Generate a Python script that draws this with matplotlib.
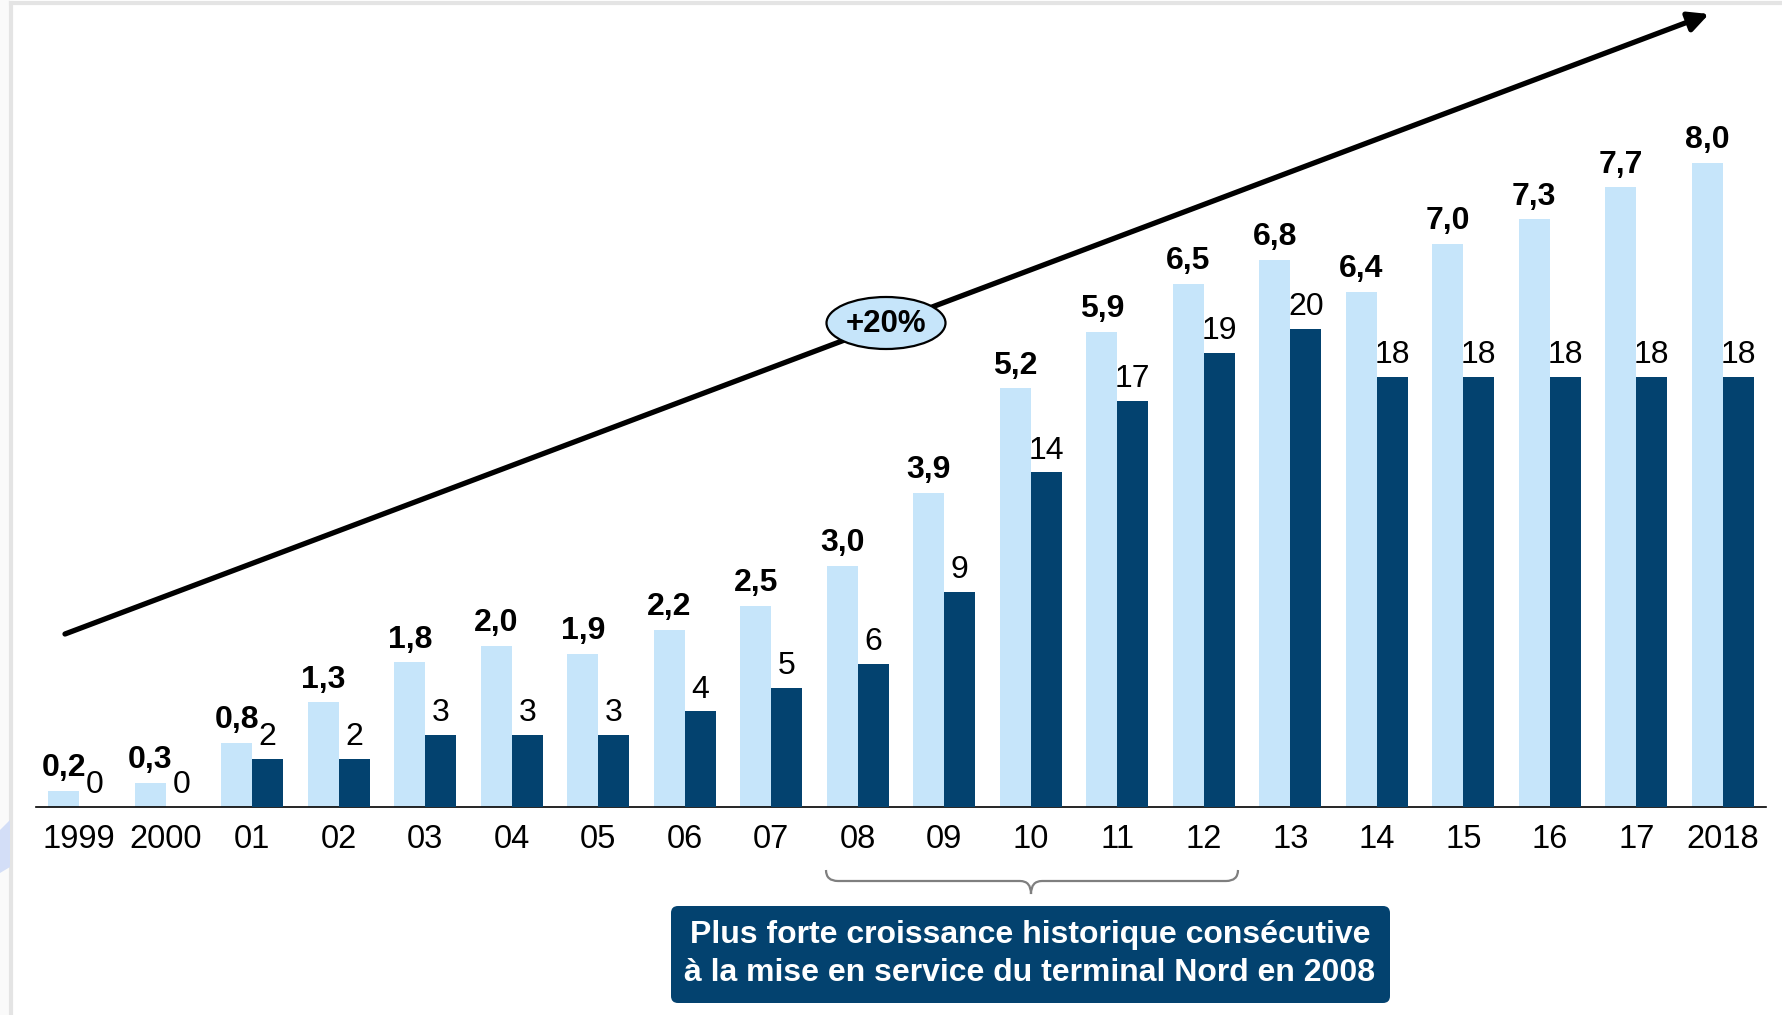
import matplotlib
matplotlib.use("Agg")
import matplotlib.pyplot as plt
import numpy as np
from matplotlib.patches import Ellipse, FancyBboxPatch, Polygon, PathPatch, Rectangle, FancyArrowPatch
from matplotlib.path import Path
from matplotlib.lines import Line2D
from matplotlib.transforms import Affine2D

plt.rcParams['font.family'] = ['Liberation Sans', 'DejaVu Sans']

# ---- data ----
years = ['1999', '2000', '01', '02', '03', '04', '05', '06', '07', '08',
         '09', '10', '11', '12', '13', '14', '15', '16', '17', '2018']
volume = [0.2, 0.3, 0.8, 1.3, 1.8, 2.0, 1.9, 2.2, 2.5, 3.0,
          3.9, 5.2, 5.9, 6.5, 6.8, 6.4, 7.0, 7.3, 7.7, 8.0]
growth = [0, 0, 2, 2, 3, 3, 3, 4, 5, 6,
          9, 14, 17, 19, 20, 18, 18, 18, 18, 18]
trend_label = '+20%'
note_lines = ['Plus forte croissance historique consécutive',
              'à la mise en service du terminal Nord en 2008']

LIGHT = '#C6E5FA'
DARK = '#03426F'

W, H = 1783, 1015
fig = plt.figure(figsize=(W / 100, H / 100), dpi=100)
fig.patch.set_facecolor('white')

# pixel coordinates (origin top-left, y downward) mapped onto the figure
pxT = Affine2D().scale(1 / W, -1 / H).translate(0, 1) + fig.transFigure

# page frame
fig.add_artist(Rectangle((0, 0), 10, H, transform=pxT, color='#FAFAFA', lw=0, zorder=0))
fig.add_artist(Line2D([11, 11], [3, H], transform=pxT, color='#E4E4E4', lw=3, zorder=1))
fig.add_artist(Line2D([11, W], [3, 3], transform=pxT, color='#E4E4E4', lw=3, zorder=1))
fig.add_artist(Polygon([(0, 830), (10, 820), (10, 867), (0, 873)], transform=pxT,
                       color='#D3DEF7', lw=0, zorder=1))

# ---- axes ----
left, right, base, top = 36, 1766, 807, 0
ax = fig.add_axes([left / W, 1 - base / H, (right - left) / W, (base - top) / H])
ax2 = ax.twinx()

x = np.arange(len(years))
bw = 0.358
ax.bar(x - bw / 2, volume, bw, color=LIGHT, zorder=2)
ax2.bar(x + bw / 2, growth, bw, color=DARK, zorder=2)

ax.set_xlim(-0.5, len(years) - 0.5)
ax.set_ylim(0, base / 80.5)
ax2.set_ylim(0, base / 23.9)

for xi, v in zip(x, volume):
    ax.annotate(f"{v:.1f}".replace('.', ','), (xi - bw / 2, v), xytext=(0, 10.5),
                textcoords='offset points', ha='center', va='baseline',
                fontsize=23, fontweight='bold', color='black', annotation_clip=False)
for xi, v in zip(x, growth):
    ax2.annotate(f"{v}", (xi + bw / 2, v), xytext=(0, 10),
                 textcoords='offset points', ha='center', va='baseline',
                 fontsize=23, color='black', annotation_clip=False)

ax.set_xticks(x, years, fontsize=23.5)
ax.tick_params(axis='x', length=0, pad=12)
ax.set_yticks([])
ax2.set_yticks([])
for a in (ax, ax2):
    for s in ('top', 'left', 'right'):
        a.spines[s].set_visible(False)
ax2.spines['bottom'].set_visible(False)
ax.spines['bottom'].set_linewidth(1.2)
ax.spines['bottom'].set_color('black')
ax.patch.set_alpha(0)

# ---- trend arrow with growth bubble ----
fig.add_artist(FancyArrowPatch(posA=(65, 634), posB=(1709, 14), transform=pxT,
                               arrowstyle='-|>,head_length=0.6,head_width=0.3',
                               mutation_scale=20, lw=3.8, color='black',
                               shrinkA=0, shrinkB=0, zorder=5))
fig.add_artist(Ellipse((886, 323), 119, 52, transform=pxT, facecolor=LIGHT,
                       edgecolor='black', lw=1.6, zorder=6))
fig.text(886, 324, trend_label, transform=pxT, ha='center', va='center',
         fontsize=22.5, fontweight='bold', color='black', zorder=7)

# ---- brace over 2008-2012 ----
verts = [(826, 870), (826, 881), (838, 881),
         (1020, 881),
         (1031, 881), (1031, 894),
         (1031, 881), (1042, 881),
         (1226, 881),
         (1238, 881), (1238, 870)]
codes = [Path.MOVETO, Path.CURVE3, Path.CURVE3,
         Path.LINETO,
         Path.CURVE3, Path.CURVE3,
         Path.CURVE3, Path.CURVE3,
         Path.LINETO,
         Path.CURVE3, Path.CURVE3]
fig.add_artist(PathPatch(Path(verts, codes), transform=pxT, facecolor='none',
                         edgecolor='#7F7F7F', lw=1.6, zorder=5))

# ---- note box ----
fig.add_artist(FancyBboxPatch((671, 906), 719, 97, transform=pxT,
                              boxstyle='round,pad=0,rounding_size=7',
                              facecolor=DARK, edgecolor='none', zorder=5))
fig.text(1030, 935, note_lines[0], transform=pxT, ha='center', va='center',
         fontsize=23, fontweight='bold', color='white', zorder=6)
fig.text(1030, 973, note_lines[1], transform=pxT, ha='center', va='center',
         fontsize=23, fontweight='bold', color='white', zorder=6)

fig.savefig('out.png', dpi=100)
